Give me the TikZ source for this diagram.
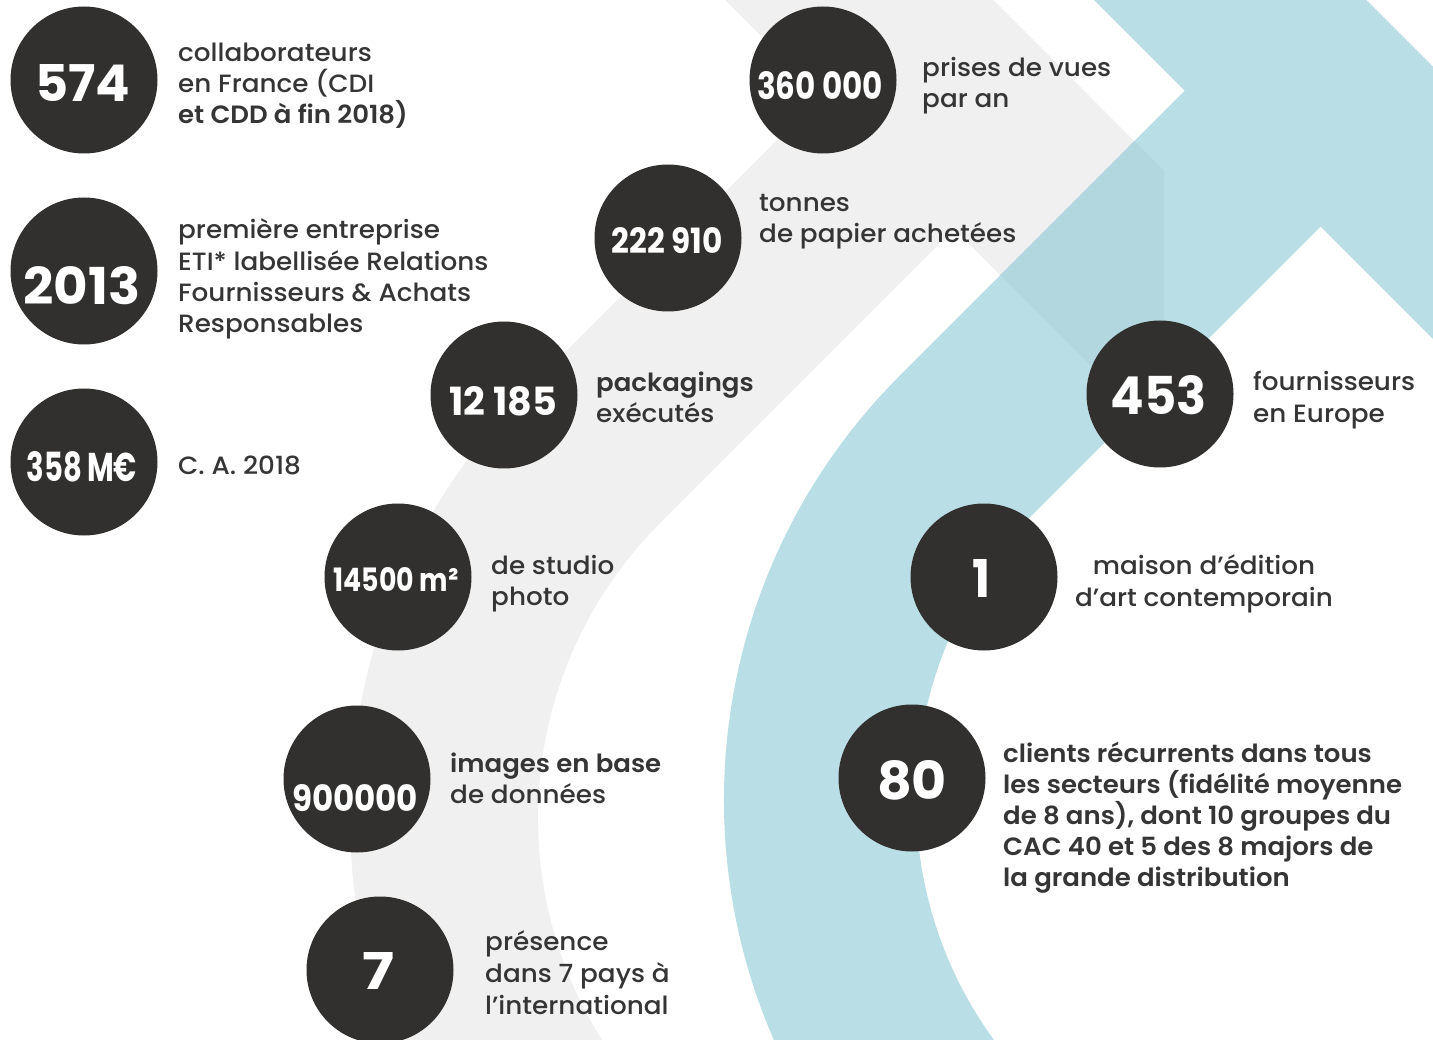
\documentclass[tikz,border=0pt]{standalone}
\usepackage{fontspec}
\usepackage{graphicx}
\setmainfont{Poppins}
\newfontfamily\pmed{Poppins Medium}[FakeStretch=1.05]
\newfontfamily\psemi{Poppins SemiBold}[FakeStretch=1.04]
\newfontfamily\pbold{Poppins Bold}
\definecolor{circfill}{HTML}{31302E}
\definecolor{txtcol}{HTML}{353535}
\definecolor{greyband}{HTML}{F0F0F0}
\definecolor{blueband}{HTML}{BADEE5}
\definecolor{overlapband}{HTML}{B2D7DE}
\newcommand\numfit[3]{\resizebox{#1pt}{#2pt}{\pbold #3}}
\tikzset{
  disc/.style={circle, fill=circfill, minimum size=147pt, inner sep=0pt},
  numtxt/.style={text=white, inner sep=0pt},
  txt/.style={anchor=base west, inner sep=0pt, text=txtcol, font=\pmed\fontsize{25}{30}\selectfont},
  txtb/.style={txt, font=\psemi\fontsize{25}{30}\selectfont},
  txtc/.style={txt, anchor=base}
}
\begin{document}
\begin{tikzpicture}[x=1pt,y=-1pt]
\useasboundingbox (0,0) rectangle (1433,1040);
\clip (0,0) rectangle (1433,1040);
\fill[white] (0,0) rectangle (1433,1040);
% grey band
\fill[greyband] (943,-50) -- (1164,171) -- (1164,439) -- (675,-50) -- cycle;
\fill[greyband] (527.2,1245.8) arc[start angle=135, end angle=225, radius=605]
  -- (955,-38) -- (1088,95) -- (660.1,523.1)
  arc[start angle=225, end angle=135, radius=417] -- cycle;
% blue band
\fill[blueband] (1044,-50) -- (1316,-50) -- (1550,184) -- (1550,456) -- cycle;
\fill[blueband] (899.7,1224.3) arc[start angle=135, end angle=225, radius=600]
  -- (1320.7,-45.3) -- (1456.5,90.5) -- (1035.5,511.5)
  arc[start angle=225, end angle=135, radius=408] -- cycle;
\begin{scope}
\clip (943,-50) -- (1164,171) -- (1164,439) -- (675,-50) -- cycle;
\fill[overlapband] (899.7,1224.3) arc[start angle=135, end angle=225, radius=600]
  -- (1320.7,-45.3) -- (1456.5,90.5) -- (1035.5,511.5)
  arc[start angle=225, end angle=135, radius=408] -- cycle;
\end{scope}
% discs
\node[disc] (d574) at (84,80) {};
\node[disc] (d2013) at (84,271) {};
\node[disc] (d358) at (84,462) {};
\node[disc] (d360) at (823,80) {};
\node[disc] (d222) at (668,238) {};
\node[disc] (d12) at (504,395) {};
\node[disc] (d145) at (398,577) {};
\node[disc] (d900) at (357,779) {};
\node[disc] (d7) at (380,970) {};
\node[disc] (d453) at (1160,394) {};
\node[disc] (d1) at (984,577) {};
\node[disc] (d80) at (912,778) {};
% numbers
\node[numtxt] (n574) at (83,83) {\numfit{95}{37}{574}};
\node[numtxt] (n2013) at (82,286) {\numfit{117}{38}{2013}};
\node[numtxt] (n358) at (82,467) {\numfit{110}{30}{358\,M€}};
\node[numtxt] (n360) at (820,86) {\numfit{126}{28}{360 000}};
\node[numtxt] (n222) at (667,241) {\numfit{111}{26}{222 910}};
\node[numtxt] (n12) at (503,401) {\numfit{108}{29}{12 185}};
\node[numtxt] (n145) at (396,579) {\numfit{125}{24}{14500 m²}};
\node[numtxt] (n900) at (355,798) {\numfit{126}{27}{900000}};
\node[numtxt] (n7) at (379,971) {\numfit{32}{37}{7}};
\node[numtxt] (n453) at (1159,395) {\numfit{96}{39}{453}};
\node[numtxt] (n1) at (981,578) {\numfit{18}{38}{1}};
\node[numtxt] (n80) at (912,780) {\numfit{70}{39}{80}};
% texts
\node[txt] (t574a) at (178,61.7) {collaborateurs};
\node[txt] (t574b) at (178,92.9) {en France (CDI};
\node[txtb] (t574c) at (178,124) {et CDD à fin 2018)};
\node[txt] (t2013a) at (178,239) {première entreprise};
\node[txt] (t2013b) at (178,270.3) {ETI* labellisée Relations};
\node[txt] (t2013c) at (178,301.6) {Fournisseurs \& Achats};
\node[txt] (t2013d) at (178,332.9) {Responsables};
\node[txt] (t358) at (178,475) {C. A. 2018};
\node[txt] (t360a) at (922,77) {prises de vues};
\node[txt] (t360b) at (922,108) {par an};
\node[txt] (t222a) at (759,212) {tonnes};
\node[txt] (t222b) at (759,243) {de papier achetées};
\node[txtb] (t12a) at (596,392) {packagings};
\node[txt] (t12b) at (596,423) {exécutés};
\node[txt] (t145a) at (491,574) {de studio};
\node[txt] (t145b) at (491,605) {photo};
\node[txtb] (t900a) at (450,772) {images en base};
\node[txt] (t900b) at (450,803) {de données};
\node[txt] (t7a) at (485,950) {présence};
\node[txt] (t7b) at (485,982) {dans 7 pays à};
\node[txt] (t7c) at (485,1014) {l’international};
\node[txt] (t453a) at (1253,391) {fournisseurs};
\node[txt] (t453b) at (1253,423) {en Europe};
\node[txtc] (t1a) at (1204,574) {maison d’édition};
\node[txtc] (t1b) at (1204,606) {d’art contemporain};
\node[txtb] (t80a) at (1003,762.5) {clients récurrents dans tous};
\node[txtb] (t80b) at (1003,793.5) {les secteurs (fidélité moyenne};
\node[txtb] (t80c) at (1003,824.5) {de 8 ans), dont 10 groupes du};
\node[txtb] (t80d) at (1003,855.5) {CAC 40 et 5 des 8 majors de};
\node[txtb] (t80e) at (1003,886.5) {la grande distribution};
\end{tikzpicture}
\end{document}
